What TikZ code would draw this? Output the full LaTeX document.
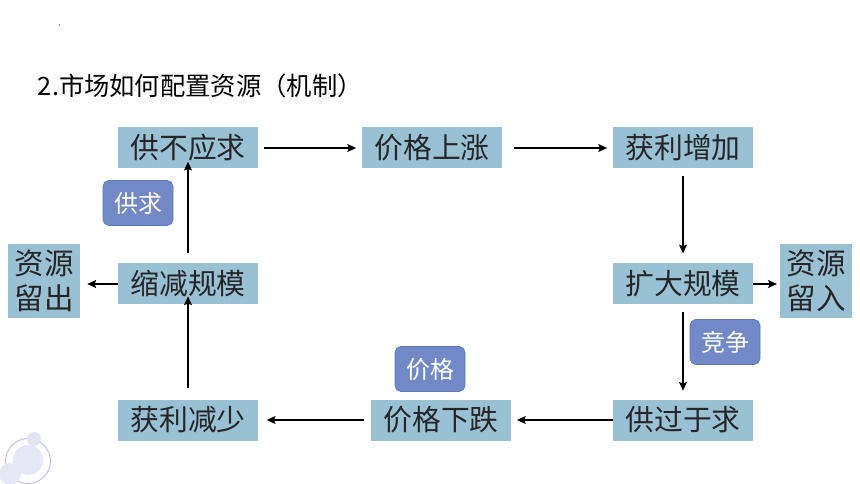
\documentclass[tikz,border=0pt]{standalone}
\usepackage{fontspec}
\newfontfamily\cjk{Noto Sans CJK SC}
\usetikzlibrary{arrows.meta, positioning}

\definecolor{boxblue}{HTML}{98C2D4}
\definecolor{tagblue}{HTML}{7189C6}
\definecolor{tagline}{HTML}{5F77B4}
\definecolor{ringcol}{HTML}{B9B8DE}
\definecolor{softcol}{HTML}{E6E7F5}

\begin{document}
\begin{tikzpicture}[
    x=0.025cm, y=-0.025cm,
    font=\cjk,
    box/.style={fill=boxblue, minimum width=140*0.025cm, minimum height=41*0.025cm, inner sep=0pt, text=black!85, font=\cjk\fontsize{20.5}{24}\selectfont},
    sidebox/.style={box, minimum width=72*0.025cm, minimum height=74*0.025cm, align=center, font=\cjk\fontsize{21}{25}\selectfont},
    tag/.style={fill=tagblue, draw=tagline, rounded corners=4pt, minimum width=70*0.025cm, minimum height=45*0.025cm, inner sep=0pt, text=white, font=\cjk\fontsize{17}{20}\selectfont},
    arr/.style={-{Stealth[length=2.2mm, width=2mm, inset=0.4mm]}, thick},
]
\useasboundingbox (0,0) rectangle (860,484);

% ============ title ============
\node[anchor=west, font=\cjk\fontsize{18}{20}\selectfont] (title) at (33,86) {2.市场如何配置资源（机制）};
\fill[black!40] (59,24) rectangle (60,26);

% ============ cycle ============
\node[box] (shortage) at (188,148) {供不应求};
\node[box] (priceup)  at (432,148) {价格上涨};
\node[box] (profitup) at (683,148) {获利增加};
\node[box] (expand)   at (683,284) {扩大规模};
\node[box] (surplus)  at (683,420) {供过于求};
\node[box] (pricedn)  at (441,420) {价格下跌};
\node[box] (profitdn) at (188,420) {获利减少};
\node[box] (shrink)   at (188,284) {缩减规模};

\node[sidebox] (resin)  at (816,281) {资源\\留入};
\node[sidebox] (resout) at (44,281)  {资源\\留出};

\draw[arr] ([xshift=4pt]shortage.east) -- ([xshift=-4pt]priceup.west);
\draw[arr] ([xshift=8pt]priceup.east) -- ([xshift=-4pt]profitup.west);
\draw[arr] ([yshift=-5pt]profitup.south) -- ([yshift=7pt]expand.north);
\draw[arr] (expand.east) -- ([xshift=-2pt]expand.east -| resin.west);
\draw[arr] ([yshift=-5pt]expand.south) -- ([yshift=6pt]surplus.north);
\draw[arr] (surplus.west) -- ([xshift=4pt]pricedn.east);
\draw[arr] ([xshift=-5pt]pricedn.west) -- ([xshift=6pt]profitdn.east);
\draw[arr] ([yshift=8pt]profitdn.north) -- ([yshift=6pt]shrink.south);
\draw[arr] ([yshift=7pt]shrink.north) -- ([yshift=5pt]shortage.south);
\draw[arr] (shrink.west) -- ([xshift=5pt]shrink.west -| resout.east);

% ============ tags ============
\node[tag] (supplydemand) at (138,203) {供求};
\node[tag] (compete)      at (725,342) {竞争};
\node[tag] (price)        at (430,369) {价格};

% ============ corner ornament ============
\fill[softcol] (28,460) circle (15);
\draw[ringcol, line width=0.6pt] (28,461) circle (22.5);
\fill[softcol!90!ringcol] (34,439) circle (7);
\fill[softcol] (10,474) circle (11);

\end{tikzpicture}
\end{document}
